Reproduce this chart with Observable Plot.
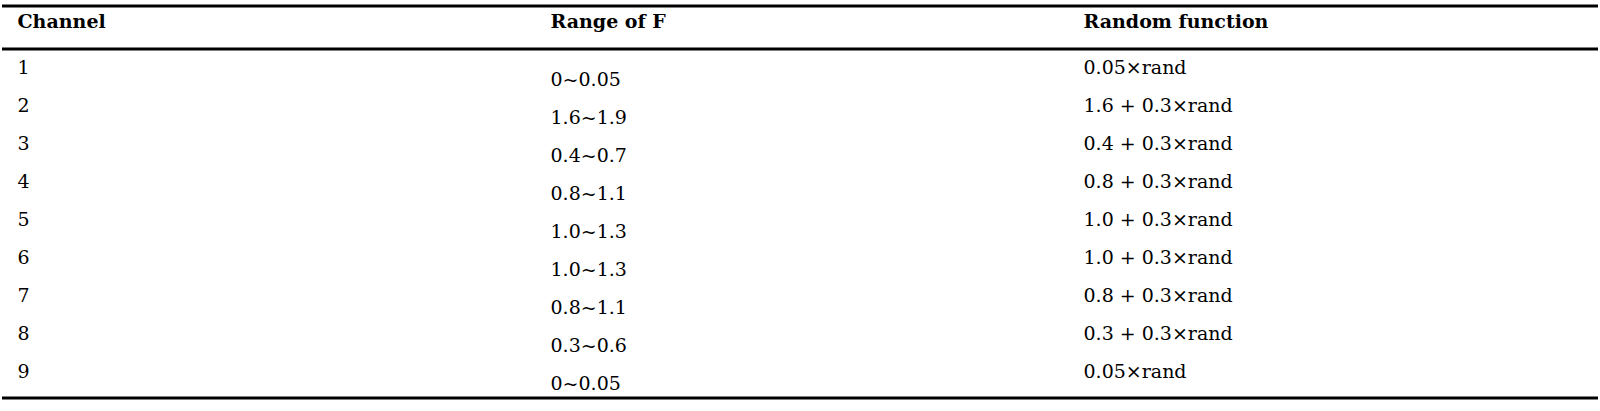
<!DOCTYPE html>
<html>
<head>
<meta charset="utf-8">
<script src="https://cdn.jsdelivr.net/npm/d3@7"></script>
<script src="https://cdn.jsdelivr.net/npm/@observablehq/plot@0.6"></script>
<style>
  body { margin: 0; background: #fff; }
</style>
</head>
<body>
<div id="chart"></div>
<script>
// table contents
const headers = ["Channel", "Range of F", "Random function"];
const channels = ["1", "2", "3", "4", "5", "6", "7", "8", "9"];
const ranges = ["0~0.05", "1.6~1.9", "0.4~0.7", "0.8~1.1", "1.0~1.3", "1.0~1.3", "0.8~1.1", "0.3~0.6", "0~0.05"];
const randomFns = ["0.05×rand", "1.6 + 0.3×rand", "0.4 + 0.3×rand", "0.8 + 0.3×rand", "1.0 + 0.3×rand",
                   "1.0 + 0.3×rand", "0.8 + 0.3×rand", "0.3 + 0.3×rand", "0.05×rand"];

let rows = channels.map((c, i) => ({row: i + 1, channel: c, range: ranges[i], fn: randomFns[i]}));
let head = headers.map(h => ({col: h, row: 0}));

const font = "DejaVu Serif";

let chart = Plot.plot({
  width: 1600,
  height: 411,
  marginTop: 0,
  marginBottom: 0,
  marginLeft: 2,
  marginRight: 2,
  x: {type: "point", domain: headers, range: [17, 1083], padding: 0, axis: null},
  y: {domain: [1, 9], range: [73, 377], axis: null},
  style: {fontFamily: font, background: "white", color: "black"},
  marks: [
    // top rule, header rule, bottom rule
    Plot.ruleY([0], {dy: -29.5, strokeWidth: 3, stroke: "black"}),
    Plot.ruleY([0.5], {dy: -5.5, strokeWidth: 3, stroke: "black"}),
    Plot.ruleY([9.5], {dy: 1.5, strokeWidth: 3, stroke: "black"}),

    Plot.text(head, {
      x: "col", y: "row", text: "col", dy: -8,
      textAnchor: "start", lineAnchor: "bottom",
      fontSize: 19, fontWeight: "bold", fontFamily: font, fill: "black"
    }),
    Plot.text(rows, {
      x: () => headers[0], y: "row", text: "channel",
      textAnchor: "start", lineAnchor: "bottom",
      fontSize: 19, fontFamily: font, fill: "black"
    }),
    // the range column sits a bit lower than the other two
    Plot.text(rows, {
      x: () => headers[1], y: "row", text: "range", dy: 12,
      textAnchor: "start", lineAnchor: "bottom",
      fontSize: 19, fontFamily: font, fill: "black"
    }),
    Plot.text(rows, {
      x: () => headers[2], y: "row", text: "fn",
      textAnchor: "start", lineAnchor: "bottom",
      fontSize: 19, fontFamily: font, fill: "black"
    })
  ]
})

d3.select("#chart").append(() => chart);
</script>
</body>
</html>
